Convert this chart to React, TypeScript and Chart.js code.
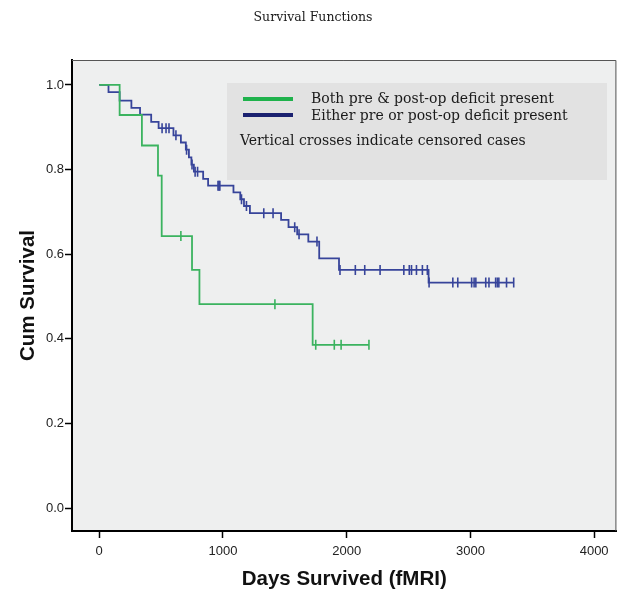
import React, { useEffect, useRef } from 'react';
import { Chart, registerables } from 'chart.js';

Chart.register(...registerables);

// ---- data ----
const xTicks = [0, 1000, 2000, 3000, 4000];
const yTicks = [0, 0.2, 0.4, 0.6, 0.8, 1.0];

const seriesNames = [
  'Both pre & post-op deficit present',
  'Either pre or post-op deficit present',
];
const censorNote = 'Vertical crosses indicate censored cases';

// Both pre & post-op deficit present (green)
const bothEventDays = [165, 345, 475, 505, 750, 810, 1725];
const bothSurvival = [0.929, 0.857, 0.786, 0.643, 0.563, 0.482, 0.386];
const bothCensorDays = [660, 1420, 1750, 1900, 1955, 2180];

// Either pre or post-op deficit present (blue)
const eitherEventDays = [
  75, 165, 260, 330, 420, 480, 600, 660, 700, 725, 745, 765, 840, 880,
  1085, 1140, 1170, 1218, 1470, 1530, 1600, 1690, 1778, 1938, 2662,
];
const eitherSurvival = [
  0.983, 0.963, 0.946, 0.93, 0.913, 0.898, 0.881, 0.864, 0.847, 0.829, 0.812,
  0.795, 0.778, 0.762, 0.746, 0.73, 0.714, 0.697, 0.681, 0.664, 0.647, 0.63,
  0.59, 0.563, 0.533,
];
const eitherCensorDays = [
  508, 540, 564, 620, 706, 750, 775, 795, 960, 968, 975, 1150, 1190, 1330,
  1405, 1580, 1615, 1760, 1946, 2070, 2146, 2270, 2462, 2506, 2524, 2564,
  2612, 2652, 2666, 2858, 2898, 3010, 3030, 3044, 3124, 3150, 3204, 3218,
  3230, 3292, 3350,
];

// ---- styling ----
const GREEN_LINE = '#3bb35f';
const GREEN_LEGEND = '#1fb24c';
const BLUE_LINE = '#37449a';
const BLUE_LEGEND = '#1b2170';
const PLOT_BG = '#eeefef';
const LEGEND_BG = '#e2e2e2';

function survAt(days: number[], surv: number[], t: number) {
  let s = 1;
  for (let i = 0; i < days.length; i++) if (days[i] <= t) s = surv[i];
  return s;
}

function curvePoints(days: number[], surv: number[], censors: number[]) {
  const pts = [{ x: 0, y: 1 }];
  days.forEach((d, i) => pts.push({ x: d, y: surv[i] }));
  const last = Math.max(days[days.length - 1], ...censors);
  pts.push({ x: last, y: survAt(days, surv, last) });
  return pts;
}

function censorPoints(days: number[], surv: number[], censors: number[]) {
  return censors.map((c) => ({ x: c, y: survAt(days, surv, c) }));
}

const decorPlugin = {
  id: 'decor',
  beforeDraw(chart: any) {
    const { ctx, chartArea } = chart;
    ctx.save();
    ctx.fillStyle = '#ffffff';
    ctx.fillRect(0, 0, chart.width, chart.height);
    ctx.fillStyle = PLOT_BG;
    ctx.fillRect(chartArea.left, chartArea.top, chartArea.right - chartArea.left, chartArea.bottom - chartArea.top);
    // title
    ctx.fillStyle = '#1a1a1a';
    ctx.font = '12.5px "DejaVu Serif"';
    ctx.textAlign = 'center';
    ctx.textBaseline = 'middle';
    ctx.fillText('Survival Functions', 313, 18);
    ctx.restore();
  },
  beforeDatasetsDraw(chart: any) {
    const { ctx, chartArea } = chart;
    ctx.save();
    // frame top/right
    ctx.strokeStyle = '#555';
    ctx.lineWidth = 1;
    ctx.beginPath();
    ctx.moveTo(chartArea.left, chartArea.top + 0.5);
    ctx.lineTo(chartArea.right - 0.5, chartArea.top + 0.5);
    ctx.lineTo(chartArea.right - 0.5, chartArea.bottom);
    ctx.stroke();
    // legend box
    ctx.fillStyle = LEGEND_BG;
    ctx.fillRect(227, 83, 380, 97);
    ctx.lineWidth = 4;
    ctx.strokeStyle = GREEN_LEGEND;
    ctx.beginPath();
    ctx.moveTo(243, 99);
    ctx.lineTo(293, 99);
    ctx.stroke();
    ctx.strokeStyle = BLUE_LEGEND;
    ctx.beginPath();
    ctx.moveTo(243, 115);
    ctx.lineTo(293, 115);
    ctx.stroke();
    ctx.fillStyle = '#1a1a1a';
    ctx.font = '14px "DejaVu Serif"';
    ctx.textAlign = 'left';
    ctx.textBaseline = 'middle';
    ctx.fillText(seriesNames[0], 311, 99);
    ctx.fillText(seriesNames[1], 311, 116);
    ctx.fillText(censorNote, 240, 141);
    ctx.restore();
  },
};

export default function App() {
  const canvasRef = useRef<HTMLCanvasElement | null>(null);

  useEffect(() => {
    document.body.style.margin = '0';
    const canvas = canvasRef.current;
    if (!canvas) return;
    const chart = new Chart(canvas, {
      type: 'scatter',
      data: {
        datasets: [
          {
            label: seriesNames[0],
            data: curvePoints(bothEventDays, bothSurvival, bothCensorDays),
            showLine: true,
            stepped: 'before',
            borderColor: GREEN_LINE,
            borderWidth: 1.8,
            pointRadius: 0,
            fill: false,
          },
          {
            label: seriesNames[1],
            data: curvePoints(eitherEventDays, eitherSurvival, eitherCensorDays),
            showLine: true,
            stepped: 'before',
            borderColor: BLUE_LINE,
            borderWidth: 1.8,
            pointRadius: 0,
            fill: false,
          },
          {
            label: 'censored-both',
            data: censorPoints(bothEventDays, bothSurvival, bothCensorDays),
            showLine: false,
            pointStyle: 'line',
            rotation: 90,
            pointRadius: 5,
            borderWidth: 1.6,
            borderColor: GREEN_LINE,
            backgroundColor: GREEN_LINE,
          },
          {
            label: 'censored-either',
            data: censorPoints(eitherEventDays, eitherSurvival, eitherCensorDays),
            showLine: false,
            pointStyle: 'line',
            rotation: 90,
            pointRadius: 5,
            borderWidth: 1.6,
            borderColor: BLUE_LINE,
            backgroundColor: BLUE_LINE,
          },
        ],
      },
      options: {
        responsive: false,
        animation: false,
        devicePixelRatio: 1,
        layout: { padding: { top: 60, right: 1, left: 0, bottom: 0 } },
        plugins: {
          legend: { display: false },
          tooltip: { enabled: false },
          title: { display: false },
        },
        scales: {
          x: {
            type: 'linear',
            min: -220,
            max: 4180,
            afterFit: (s: any) => {
              s.height = 64;
            },
            afterBuildTicks: (s: any) => {
              s.ticks = xTicks.map((v) => ({ value: v }));
            },
            grid: {
              drawOnChartArea: false,
              drawTicks: true,
              tickLength: 7,
              tickColor: '#000',
              tickWidth: 1.5,
            },
            border: { display: true, color: '#000', width: 2 },
            ticks: {
              color: '#222',
              padding: 6,
              font: { family: '"Liberation Sans", Arial', size: 13 },
              callback: (v: any) => String(v),
            },
            title: {
              display: true,
              text: 'Days Survived (fMRI)',
              color: '#111',
              font: { family: '"Liberation Sans", Arial', size: 20.5, weight: 'bold' },
              padding: { top: 0, bottom: 3 },
            },
          },
          y: {
            type: 'linear',
            min: -0.054,
            max: 1.059,
            afterFit: (s: any) => {
              s.width = 72;
            },
            afterBuildTicks: (s: any) => {
              s.ticks = yTicks.map((v) => ({ value: v }));
            },
            grid: {
              drawOnChartArea: false,
              drawTicks: true,
              tickLength: 7,
              tickColor: '#000',
              tickWidth: 1.5,
            },
            border: { display: true, color: '#000', width: 2 },
            ticks: {
              color: '#222',
              padding: 1,
              font: { family: '"Liberation Sans", Arial', size: 13 },
              callback: (v: any) => Number(v).toFixed(1),
            },
            title: {
              display: true,
              text: 'Cum Survival',
              color: '#111',
              font: { family: '"Liberation Sans", Arial', size: 20.5, weight: 'bold' },
              padding: { top: 16, bottom: 0 },
            },
          },
        },
      },
      plugins: [decorPlugin],
    });
    return () => chart.destroy();
  }, []);

  return (
    <canvas
      ref={canvasRef}
      width={623}
      height={595}
      style={{ display: 'block', width: 623, height: 595 }}
    />
  );
}
